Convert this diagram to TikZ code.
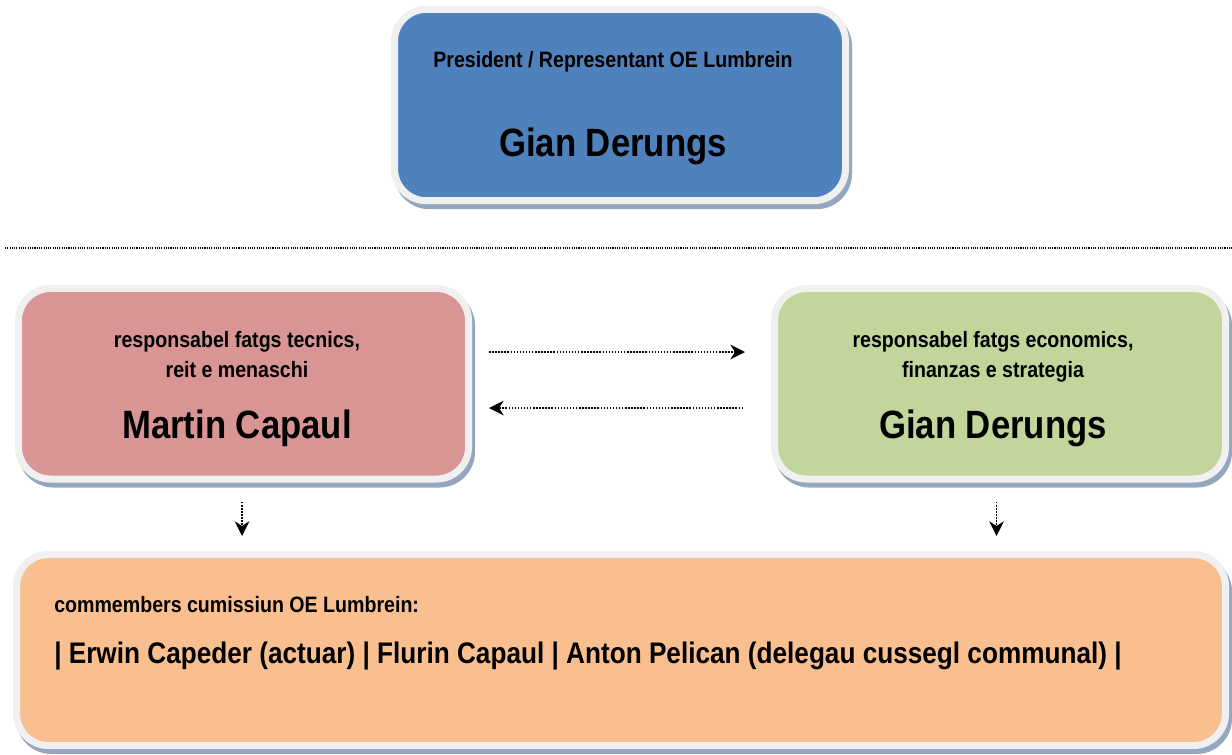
\documentclass[tikz,border=0pt]{standalone}
\usepackage{fontspec}
\setmainfont{Liberation Sans}[FakeStretch=0.88]
\usetikzlibrary{arrows.meta}
\definecolor{bluef}{HTML}{4F81BD}
\definecolor{redf}{HTML}{D99594}
\definecolor{greenf}{HTML}{C2D69B}
\definecolor{orangef}{HTML}{F9BF8F}
\definecolor{bordc}{HTML}{F0F0F0}
\definecolor{shadc}{HTML}{95A6BF}
\newcommand\fsmall{\fontsize{16.7pt}{20pt}\selectfont\bfseries}
\newcommand\fbig{\fontsize{29.6pt}{34pt}\selectfont\bfseries}
\newcommand\fmid{\fontsize{22.3pt}{26pt}\selectfont\bfseries}
\tikzset{
  box/.style={draw=bordc, line width=5.25pt, rounded corners=24pt, inner sep=0pt, outer sep=0pt,
    preaction={draw=shadc, fill=shadc, line width=5.25pt, transform canvas={shift={(3,5)}}}},
  txt/.style={inner sep=0pt, anchor=base},
  conn/.style={line width=1.1pt, dash pattern=on 1.1pt off 1.2pt,
    -{Stealth[length=11pt,width=11pt,inset=3.5pt]}},
  sepline/.style={line width=0.9pt, dash pattern=on 0.8pt off 0.9pt}
}
\begin{document}
\begin{tikzpicture}[x=0.75pt,y=-0.75pt]
\useasboundingbox (0,0) rectangle (1232,754);
% boxes
\node[box, fill=bluef, minimum width=338.25pt, minimum height=143.6pt] (top) at (620,105) {};
\node[box, fill=redf, minimum width=337.5pt, minimum height=142.9pt] (red) at (243.5,383.75) {};
\node[box, fill=greenf, minimum width=338.25pt, minimum height=142.9pt] (green) at (1000,383.75) {};
\node[box, fill=orangef, minimum width=906.75pt, minimum height=143.25pt] (bottom) at (621,650) {};
% texts
\node[txt] (t1) at (613,67) {\fsmall President / Representant OE Lumbrein};
\node[txt] (t2) at (613,156) {\fbig Gian Derungs};
\node[txt] (r1) at (237,347) {\fsmall responsabel fatgs tecnics,};
\node[txt] (r2) at (237,377) {\fsmall reit e menaschi};
\node[txt] (r3) at (237,438) {\fbig Martin Capaul};
\node[txt] (g1) at (993,347) {\fsmall responsabel fatgs economics,};
\node[txt] (g2) at (993,377) {\fsmall finanzas e strategia};
\node[txt] (g3) at (993,438) {\fbig Gian Derungs};
\node[txt, anchor=base west] (b1) at (54,612) {\fsmall commembers cumissiun OE Lumbrein:};
\node[txt, anchor=base west] (b2) at (54,663) {\fmid | Erwin Capeder (actuar) | Flurin Capaul | Anton Pelican (delegau cussegl communal) |};
% separator
\coordinate (sepL) at (5,248);
\coordinate (sepR) at (1232,248);
\draw[sepline] (sepL) -- (sepR);
% connectors
\draw[conn, shorten <=15.4pt, shorten >=22.1pt] ([yshift=23.8pt]red.east) -- ([yshift=23.8pt]green.west);
\draw[conn, shorten <=23.6pt, shorten >=15.4pt] ([yshift=-18.2pt]green.west) -- ([yshift=-18.2pt]red.east);
\coordinate (dl) at ([xshift=-1.1pt]red.south);
\coordinate (dr) at ([xshift=-2.6pt]green.south);
\draw[conn, shorten <=17.25pt, shorten >=13.9pt] (dl) -- (dl |- bottom.north);
\draw[conn, shorten <=17.25pt, shorten >=13.9pt] (dr) -- (dr |- bottom.north);
\end{tikzpicture}
\end{document}
